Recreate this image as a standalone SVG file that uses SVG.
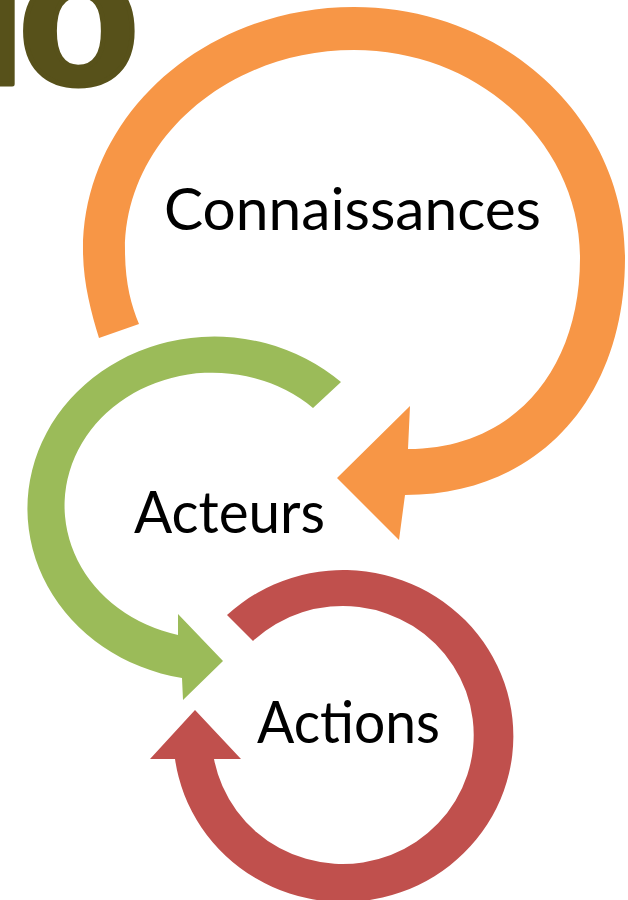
<svg xmlns="http://www.w3.org/2000/svg" width="628" height="900" viewBox="0 0 628 900">
  <style>
    .label { font-family: "Lato", "Open Sans", "Liberation Sans", sans-serif; font-size: 59px; fill: #000000; }
    .orange { fill: #F79646; }
    .green { fill: #9BBB59; }
    .red { fill: #C0504D; }
    .title { font-family: "Liberation Sans", Arial, sans-serif; font-weight: bold; font-size: 200px; fill: #57511A; stroke: #57511A; stroke-width: 5; stroke-linejoin: round; }
  </style>
  <rect width="628" height="900" fill="#FFFFFF"/>
  <g id="title-fragment">
    <text class="title" x="-29.3 17.7" y="84">io</text>
  </g>
  <g id="connectors">
    <path id="arrow-connaissances-acteurs" class="orange" d="M 99,338 C 91,312 83,282 83,250 C 83,116 204,7 354,7 C 504,7 625,119 625,258 C 625,400 537,495 405,495 L 399,540 L 337,478 L 410,406 L 408,449 C 511,449 580,373 580,258 C 580,143 479,50 354,50 C 228,50 125,140 125,250 C 125,282 131,305 139,324 Z"/>
    <path id="arrow-acteurs-actions" class="green" d="M 341,382 A 187,172 0 1 0 182,678 L 183,700 L 223,661 L 178,614 L 178,635 A 148,133 0 1 1 313,408 Z"/>
    <path id="arrow-actions-loop" class="red" d="M 227,615 A 170,166 0 1 1 175,759 L 150,759 L 195,710 L 241,759 L 214,759 A 131,129 0 1 0 253,641 Z"/>
  </g>
  <g id="node-connaissances">
    <text class="label" x="164" y="230" textLength="377" lengthAdjust="spacingAndGlyphs">Connaissances</text>
  </g>
  <g id="node-acteurs">
    <text class="label" x="134" y="533" textLength="191" lengthAdjust="spacingAndGlyphs">Acteurs</text>
  </g>
  <g id="node-actions">
    <text class="label" x="257" y="743" textLength="183" lengthAdjust="spacingAndGlyphs">Actions</text>
  </g>
</svg>
